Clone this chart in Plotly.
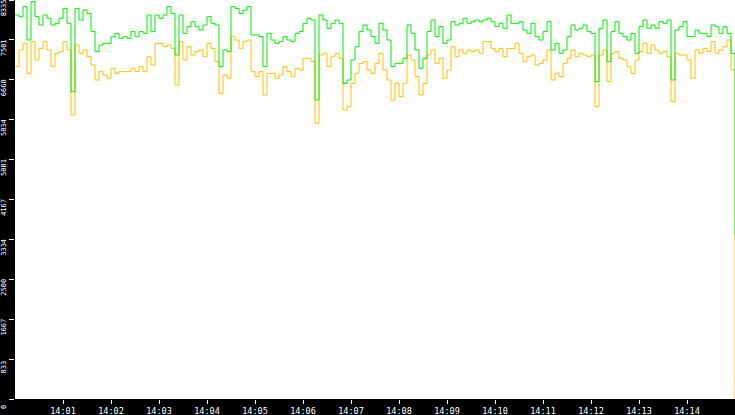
"""
Two-series throughput monitor, 14:00 - 14:15 (5 second samples)
"""

import pandas as pd
import plotly.graph_objects as go

# seconds after 14:00:00, one sample every 5 s
sample_secs = list(range(0, 905, 5))

# upper (green) series, one row per minute
green_values = [
    8022, 7987, 8196, 7499, 8300, 7987, 7813, 8022, 7952, 7813, 7848, 7952,
    8161, 7848, 6420, 8161, 7917, 8126, 8056, 7674, 7256, 7395, 7430, 7430,
    7569, 7639, 7534, 7569, 7534, 7674, 7569, 7674, 7639, 8022, 7674, 8022,
    7952, 8022, 8196, 8056, 7186, 8022, 7639, 7778, 7882, 7778, 7708, 7813,
    7987, 7848, 7813, 6942, 7291, 7256, 8196, 8161, 8056, 8126, 8196, 7604,
    7604, 7569, 6942, 7639, 7499, 7430, 7465, 7569, 7499, 7465, 7639, 7674,
    7848, 7952, 7917, 6246, 8022, 7917, 7743, 7848, 7917, 7848, 6594, 6664,
    7082, 7360, 7674, 7813, 7708, 7569, 7430, 7848, 7708, 7499, 6942, 7012,
    7012, 7117, 7813, 7639, 7291, 6908, 7117, 7674, 7917, 7569, 7778, 7430,
    7499, 7882, 7813, 7848, 7952, 7848, 7882, 7917, 7882, 7917, 7952, 7882,
    7778, 7848, 7743, 8022, 7848, 7848, 7882, 7708, 7639, 7848, 7569, 7499,
    7674, 7882, 7291, 7430, 7221, 7291, 7569, 7813, 7708, 7743, 7813, 7674,
    7639, 6629, 7743, 7917, 7047, 7674, 7882, 7639, 7569, 7499, 7639, 7221,
    7778, 7917, 7743, 7813, 7743, 7882, 7848, 7917, 6664, 7708, 7778, 7882,
    7569, 7569, 7708, 7639, 7639, 7569, 7813, 7778, 7639, 7778, 7639, 7221,
    3426,
]

# lower (orange) series
orange_values = [
    6942, 7291, 7430, 6803, 7465, 7082, 7325, 7465, 7291, 6942, 7221, 7256,
    7465, 7291, 5933, 7395, 7221, 7291, 7151, 6977, 6664, 6838, 6768, 6699,
    6908, 6803, 6838, 6838, 6838, 6908, 6838, 6942, 6838, 7151, 6977, 7430,
    7430, 7360, 7395, 7325, 6559, 7465, 7082, 7360, 7186, 7256, 7291, 7151,
    7430, 7325, 7047, 6385, 6768, 6699, 7569, 7499, 7325, 7465, 7499, 6838,
    6734, 6838, 6351, 6803, 6803, 6699, 6768, 6942, 6838, 6734, 6908, 6873,
    7117, 7117, 7047, 5759, 7186, 7221, 6942, 7151, 7221, 7117, 6037, 6107,
    6594, 6803, 7012, 7047, 6873, 6803, 7012, 7221, 6873, 6664, 6246, 6594,
    6316, 6594, 7186, 7082, 6734, 6351, 6594, 7186, 7291, 7012, 7117, 6699,
    6873, 7360, 7151, 7291, 7221, 7291, 7256, 7291, 7221, 7465, 7465, 7325,
    7256, 7325, 7151, 7325, 7325, 7430, 7221, 7047, 7151, 7186, 6977, 7012,
    7082, 7291, 6664, 6803, 6734, 7012, 7117, 7291, 7151, 7221, 7186, 7151,
    7186, 6107, 7186, 7291, 6629, 7221, 7256, 7117, 7082, 6942, 6803, 7082,
    7256, 7430, 7221, 7395, 7291, 7221, 7256, 7151, 6211, 7221, 7186, 7186,
    7082, 6699, 7291, 7221, 7325, 7256, 7465, 7221, 7291, 7360, 7499, 6873,
    0,
]

x_tick_labels = ['14:01', '14:02', '14:03', '14:04', '14:05', '14:06', '14:07',
                 '14:08', '14:09', '14:10', '14:11', '14:12', '14:13', '14:14']
y_tick_labels = ['0', '833', '1667', '2500', '3334', '4167',
                 '5001', '5834', '6668', '7501', '8335']
y_max = 8335

day = '2024-01-01'
start = pd.Timestamp(f'{day} 14:00:00')
times = [start + pd.Timedelta(seconds=s) for s in sample_secs]
x_ticks = [pd.Timestamp(f'{day} {t}:00') for t in x_tick_labels]
y_ticks = [y_max * i / (len(y_tick_labels) - 1) for i in range(len(y_tick_labels))]

fig = go.Figure()

# orange underneath, green drawn on top; step lines give the jagged look
fig.add_trace(go.Scatter(x=times, y=orange_values, mode='lines',
                         line=dict(color='#ffc000', width=1, shape='hv'),
                         name='lower'))
fig.add_trace(go.Scatter(x=times, y=green_values, mode='lines',
                         line=dict(color='#00ee00', width=1, shape='hv'),
                         name='upper'))

fig.update_layout(
    width=735, height=415,
    margin=dict(l=15, r=0, t=0, b=16, pad=0),
    paper_bgcolor='black',
    plot_bgcolor='white',
    showlegend=False,
    font=dict(family='DejaVu Sans Mono', color='white'),
)

fig.update_xaxes(
    range=[start, start + pd.Timedelta(minutes=15)],
    tickvals=x_ticks, ticktext=x_tick_labels,
    ticks='outside', ticklen=4, tickcolor='white', tickwidth=1,
    tickfont=dict(size=8.5, color='white'),
    showgrid=False, zeroline=False, showline=False, automargin=False,
)

fig.update_yaxes(
    range=[0, y_max],
    tickvals=y_ticks, ticktext=y_tick_labels,
    tickangle=-90, ticklabelshift=9, ticklabelstandoff=0,
    ticklabeloverflow='allow',
    ticks='outside', ticklen=5, tickcolor='white', tickwidth=1,
    tickfont=dict(size=7, color='white'),
    showgrid=False, zeroline=False, showline=False, automargin=False,
)

# page body margin would push the fixed-size figure off the 735x415 window
fig.write_html('out.html', config={'displayModeBar': False},
               post_script="document.body.style.margin='0';")
